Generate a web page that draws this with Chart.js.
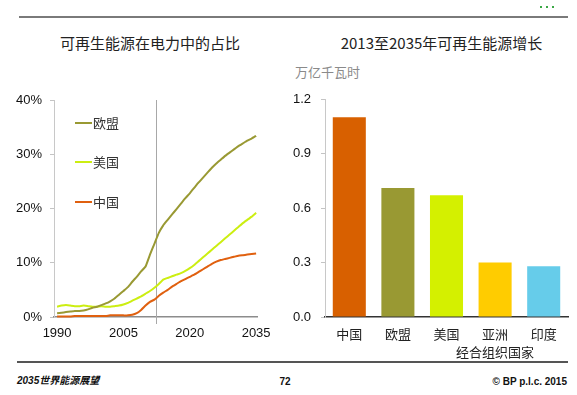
<!DOCTYPE html>
<html>
<head>
<meta charset="utf-8">
<script src="https://cdn.jsdelivr.net/npm/chart.js@4.4.1/dist/chart.umd.min.js"></script>
<style>
body { margin: 0; background: #fff; font-family: 'Noto Sans CJK SC', 'Liberation Sans', sans-serif; }
#page { position: relative; width: 577px; height: 395px; overflow: hidden; }
.abs { position: absolute; white-space: nowrap; }
.title { font-size: 15px; color: #222; line-height: 20px; text-align: center; }
.rule { position: absolute; background: #7a7a7a; }
.leg { position: absolute; font-size: 13px; color: #333; line-height: 18px; white-space: nowrap; }
.leg i { position: absolute; left: 0; top: 8px; width: 17px; height: 2px; }
.leg span { position: absolute; left: 18px; top: 0; white-space: nowrap; }
.foot { font-size: 10px; font-weight: bold; color: #111; line-height: 14px; font-family: 'Liberation Sans', 'Noto Sans CJK SC', sans-serif; }
.dot { position: absolute; width: 2px; height: 2px; background: #3aa845; }
</style>
</head>
<body>
<div id="page">
  <div class="rule" style="left:19px; top:16px; width:549px; height:2px;"></div>
  <div class="dot" style="left:540px; top:6px;"></div>
  <div class="dot" style="left:546px; top:6px;"></div>
  <div class="dot" style="left:552px; top:6px;"></div>

  <div class="abs title" style="left:40px; top:33px; width:220px;">可再生能源在电力中的占比</div>
  <div class="abs title" style="left:320px; top:33px; width:243px;">2013至2035年可再生能源增长</div>
  <div class="abs" style="left:295px; top:63px; font-size:13px; color:#8a8a8a; line-height:18px;">万亿千瓦时</div>

  <canvas id="chartShare" class="abs" style="left:0; top:90px;" width="290" height="260"></canvas>
  <canvas id="chartGrowth" class="abs" style="left:290px; top:90px;" width="287" height="270"></canvas>

  <div class="leg" style="left:75px; top:114px;"><i style="background:#999933"></i><span>欧盟</span></div>
  <div class="leg" style="left:75px; top:153px;"><i style="background:#ccee11"></i><span>美国</span></div>
  <div class="leg" style="left:75px; top:193px;"><i style="background:#e0600f"></i><span>中国</span></div>

  <div class="rule" style="left:17px; top:361px; width:551px; height:1.5px; background:#555;"></div>
  <div class="abs foot" style="left:17px; top:374px; font-style:italic;">2035世界能源展望</div>
  <div class="abs foot" style="left:265px; top:375px; width:40px; text-align:center;">72</div>
  <div class="abs foot" style="left:440px; top:375px; width:127px; text-align:right;">© BP p.l.c. 2015</div>
</div>

<script>
// share of renewables in power (%)
var years = [1990, 1991, 1992, 1993, 1994, 1995, 1996, 1997, 1998, 1999,
  2000, 2001, 2002, 2003, 2004, 2005, 2006, 2007, 2008, 2009,
  2010, 2011, 2012, 2013, 2014, 2015, 2016, 2017, 2018, 2019,
  2020, 2021, 2022, 2023, 2024, 2025, 2026, 2027, 2028, 2029,
  2030, 2031, 2032, 2033, 2034, 2035];
var shareEU = [0.7, 0.8, 0.9, 1.0, 1.1, 1.1, 1.2, 1.4, 1.7, 1.9,
  2.2, 2.5, 2.9, 3.4, 4.1, 4.8, 5.5, 6.5, 7.4, 8.4,
  9.3, 11.5, 13.5, 15.5, 16.9, 17.9, 18.9, 19.9, 20.9, 21.9,
  22.8, 23.8, 24.8, 25.7, 26.6, 27.5, 28.3, 29.0, 29.7, 30.3,
  30.9, 31.5, 32.0, 32.5, 32.9, 33.4];
var shareUS = [1.9, 2.1, 2.2, 2.1, 2.0, 2.0, 2.1, 2.0, 1.9, 1.9,
  2.0, 1.9, 1.9, 2.0, 2.1, 2.3, 2.6, 3.0, 3.4, 3.8,
  4.3, 4.8, 5.4, 6.1, 6.9, 7.2, 7.5, 7.8, 8.1, 8.5,
  9.0, 9.6, 10.3, 11.0, 11.7, 12.4, 13.1, 13.8, 14.5, 15.2,
  15.9, 16.6, 17.3, 17.9, 18.5, 19.2];
var shareChina = [0.1, 0.1, 0.1, 0.1, 0.2, 0.2, 0.2, 0.2, 0.2, 0.2,
  0.2, 0.2, 0.3, 0.3, 0.3, 0.3, 0.3, 0.4, 0.7, 1.3,
  2.1, 2.8, 3.2, 3.9, 4.5, 5.0, 5.6, 6.1, 6.6, 7.0,
  7.4, 7.8, 8.3, 8.8, 9.3, 9.8, 10.2, 10.5, 10.7, 10.9,
  11.1, 11.3, 11.4, 11.5, 11.6, 11.7];
var yearTicks = [1990, 2005, 2020, 2035];
var shareTicks = [0, 10, 20, 30, 40];
var projectionYear = 2012.3;

// growth 2013-2035 (trillion kWh)
var regions = ['中国', '欧盟', '美国', ['亚洲', '经合组织国家'], '印度'];
var growth = [1.10, 0.71, 0.67, 0.30, 0.28];
var growthTicks = [0, 0.3, 0.6, 0.9, 1.2];

var numFont = { family: "'Liberation Sans', Arial, sans-serif", size: 13 };
var cjkFont = { family: "'Noto Sans CJK SC', sans-serif", size: 13, lineHeight: 1.4 };

function toPoints(vals) {
  var pts = [];
  for (var i = 0; i < years.length; i++) pts.push({ x: years[i], y: vals[i] });
  return pts;
}

// y axis: fixed width, no extra label padding so layout padding sets the top
function fixYAxis(width) {
  return function(s) {
    s.width = width;
    s.paddingTop = 0;
    s.paddingBottom = 0;
  };
}

var projLine = {
  id: 'projLine',
  beforeDatasetsDraw: function(chart) {
    var xs = chart.scales.x;
    var area = chart.chartArea;
    var px = Math.round(xs.getPixelForValue(projectionYear)) + 0.5;
    var c = chart.ctx;
    c.save();
    c.strokeStyle = '#a8a8a8';
    c.lineWidth = 1;
    c.beginPath();
    c.moveTo(px, area.top);
    c.lineTo(px, area.bottom + 7);
    c.stroke();
    c.restore();
  }
};

function renderShare() {
  var ctx = document.getElementById('chartShare');
  var lineDs = function(label, vals, color) {
    return { label: label, data: toPoints(vals), borderColor: color, borderWidth: 2, pointRadius: 0, tension: 0.1, fill: false, clip: false };
  };
  new Chart(ctx, {
    type: 'line',
    data: {
      datasets: [
        lineDs('欧盟', shareEU, '#999933'),
        lineDs('美国', shareUS, '#ccee11'),
        lineDs('中国', shareChina, '#e0600f')
      ]
    },
    options: {
      responsive: false,
      animation: false,
      layout: { padding: { top: 10, right: 33, left: 0, bottom: 0 } },
      plugins: { legend: { display: false }, tooltip: { enabled: false } },
      scales: {
        x: {
          type: 'linear', min: 1989.3, max: 2035.2,
          afterBuildTicks: function(s) { s.ticks = yearTicks.map(function(v) { return { value: v }; }); },
          afterFit: function(s) { s.height = 33; },
          grid: { display: true, drawOnChartArea: false, drawTicks: false },
          border: { color: '#8c8c8c', width: 1.5 },
          ticks: { color: '#111', font: numFont, padding: 9, maxRotation: 0, autoSkip: false, callback: function(v) { return String(v); } }
        },
        y: {
          min: 0, max: 40,
          afterBuildTicks: function(s) { s.ticks = shareTicks.map(function(v) { return { value: v }; }); },
          afterFit: fixYAxis(54),
          grid: { drawOnChartArea: false, drawTicks: true, tickLength: 4, color: '#c4c4c4' },
          border: { color: '#c8c8c8', width: 1 },
          ticks: { color: '#111', font: numFont, padding: 8, callback: function(v) { return v + '%'; } }
        }
      }
    },
    plugins: [projLine]
  });
}

function renderGrowth() {
  var ctx = document.getElementById('chartGrowth');
  new Chart(ctx, {
    type: 'bar',
    data: {
      labels: regions,
      datasets: [{
        data: growth,
        backgroundColor: ['#d86000', '#999933', '#d4f000', '#ffcc00', '#66ccea'],
        borderWidth: 0,
        categoryPercentage: 1,
        barPercentage: 0.68
      }]
    },
    options: {
      responsive: false,
      animation: false,
      layout: { padding: { top: 9, right: 9, left: 0, bottom: 0 } },
      plugins: { legend: { display: false }, tooltip: { enabled: false } },
      scales: {
        x: {
          afterFit: function(s) { s.height = 43; },
          grid: { display: true, drawOnChartArea: false, drawTicks: false },
          border: { color: '#333', width: 1.5 },
          ticks: { color: '#222', font: cjkFont, padding: 8, maxRotation: 0, autoSkip: false }
        },
        y: {
          min: 0, max: 1.2,
          afterBuildTicks: function(s) { s.ticks = growthTicks.map(function(v) { return { value: v }; }); },
          afterFit: fixYAxis(35),
          grid: { drawOnChartArea: false, drawTicks: true, tickLength: 4, color: '#c4c4c4' },
          border: { color: '#c8c8c8', width: 1 },
          ticks: { color: '#111', font: numFont, padding: 10, callback: function(v) { return v.toFixed(1); } }
        }
      }
    }
  });
}

renderShare();
renderGrowth();
</script>
</body>
</html>
